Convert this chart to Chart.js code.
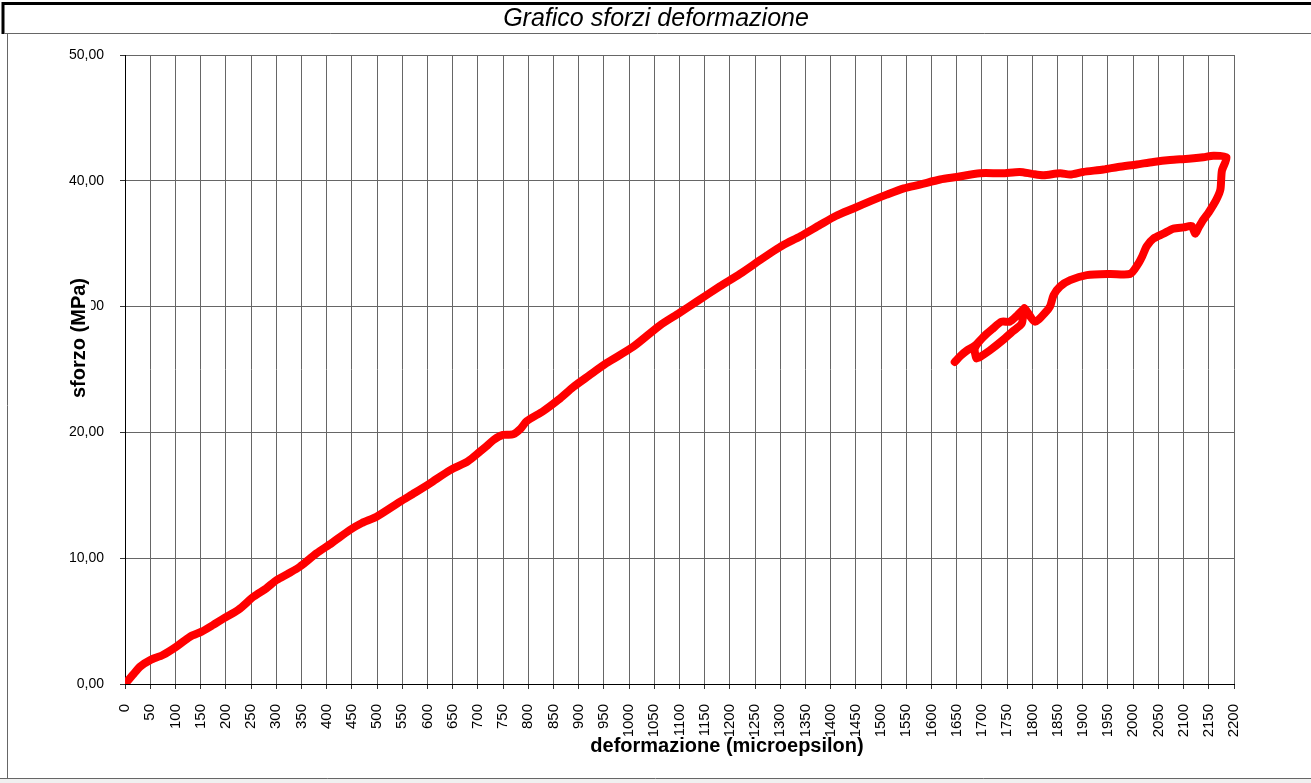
<!DOCTYPE html>
<html>
<head>
<meta charset="utf-8">
<title>Grafico sforzi deformazione</title>
<script src="https://cdn.jsdelivr.net/npm/chart.js@4.4.1/dist/chart.umd.min.js"></script>
<style>
  body { margin: 0; background: #fff; }
  canvas { display: block; }
</style>
</head>
<body>
<canvas id="myChart" width="1311" height="783"></canvas>
<script>
/*** data */
const strain = [
  0, 15, 30, 50, 75, 102, 129, 152, 175, 195, 225, 255, 280, 301, 325, 347, 380, 410, 446, 470,
  499, 546, 575, 605, 645, 680, 704, 717, 731, 750, 770, 785, 797, 830, 860, 889, 920, 955, 1008, 1061,
  1100, 1134, 1180, 1220, 1260, 1286, 1306, 1340, 1379, 1410, 1445, 1480, 1511, 1545, 1577, 1617, 1650, 1696, 1740, 1775,
  1800, 1822, 1855, 1875, 1900, 1941, 1970, 2007, 2040, 2073, 2110, 2139, 2159, 2185,
  2176, 2173, 2165, 2150, 2139, 2130, 2123, 2116, 2100, 2080, 2060, 2040, 2027, 2018, 2010, 1994, 1954, 1908, 1875, 1855,
  1842, 1835, 1825, 1805, 1784, 1779, 1760, 1742, 1715, 1696, 1689, 1686,
  1703, 1720, 1739, 1755, 1770, 1784, 1770, 1755, 1739, 1720, 1703, 1686, 1670, 1658, 1646
];
const stress = [
  0, 0.7, 1.38, 1.9, 2.3, 2.97, 3.76, 4.16, 4.7, 5.2, 5.9, 6.94, 7.6, 8.27, 8.8, 9.33, 10.39, 11.2, 12.24, 12.8,
  13.3, 14.5, 15.2, 15.95, 17.0, 17.7, 18.47, 18.9, 19.4, 19.8, 19.85, 20.3, 20.9, 21.7, 22.6, 23.6, 24.5, 25.5, 26.8, 28.5,
  29.5, 30.4, 31.6, 32.6, 33.7, 34.4, 34.9, 35.6, 36.5, 37.2, 37.8, 38.4, 38.9, 39.4, 39.7, 40.1, 40.3, 40.6, 40.6, 40.7,
  40.55, 40.45, 40.6, 40.5, 40.7, 40.9, 41.1, 41.3, 41.5, 41.65, 41.75, 41.87, 42.0, 41.87,
  40.8, 39.3, 38.5, 37.5, 36.9, 36.3, 35.8, 36.4, 36.3, 36.2, 35.8, 35.4, 34.8, 34.0, 33.4, 32.6, 32.6, 32.5, 32.1, 31.6,
  30.9, 30.0, 29.5, 28.8, 29.86, 28.66, 28.0, 27.35, 26.5, 26.0, 25.9, 26.7,
  27.6, 28.2, 28.8, 28.8, 29.3, 29.86, 29.3, 28.8, 28.8, 28.2, 27.6, 26.9, 26.5, 26.1, 25.6
];

const xTicks = { min: 0, max: 2200, step: 50 };
const yTicks = { min: 0, max: 50, step: 10 };

const points = strain.map((x, i) => ({ x: x, y: stress[i] }));

/*** frame, title and axis titles like the excel sheet */
const excelDecor = {
  id: 'excelDecor',
  beforeDraw(chart) {
    const c = chart.ctx;
    c.save();
    c.fillStyle = '#fff';
    c.fillRect(0, 0, chart.width, chart.height);
    c.fillStyle = '#f0f0f0';
    c.fillRect(0, 779, chart.width, 4);
    c.restore();
  },
  afterDraw(chart) {
    const c = chart.ctx;
    c.save();
    // outer frame
    c.strokeStyle = '#000';
    c.lineWidth = 3;
    c.beginPath();
    c.moveTo(3, 34);
    c.lineTo(3, 3.5);
    c.lineTo(1311, 3.5);
    c.stroke();
    c.strokeStyle = '#666';
    c.lineWidth = 1;
    c.beginPath();
    c.moveTo(4, 33.5); c.lineTo(1311, 33.5);
    c.moveTo(7.5, 33); c.lineTo(7.5, 778);
    c.moveTo(0, 778.5); c.lineTo(1311, 778.5);
    c.stroke();

    // title
    c.fillStyle = '#000';
    c.textAlign = 'center';
    c.textBaseline = 'middle';
    c.font = 'italic 25px "Liberation Sans", Arial, sans-serif';
    c.fillText('Grafico sforzi deformazione', 656, 19);

    // x title
    c.font = 'bold 20px "Liberation Sans", Arial, sans-serif';
    c.fillText('deformazione (microepsilon)', 727, 746);

    // y title, white box over the 30,00 label as in the picture
    c.translate(79, 338);
    c.rotate(-Math.PI / 2);
    const w = c.measureText('sforzo (MPa)').width;
    c.fillStyle = '#fff';
    c.fillRect(-w / 2 - 4, -12, w + 8, 24);
    c.fillStyle = '#000';
    c.fillText('sforzo (MPa)', 0, 0);
    c.restore();
  }
};

const ctx = document.getElementById('myChart').getContext('2d');
const chart = new Chart(ctx, {
  type: 'scatter',
  data: {
    datasets: [{
      label: 'sforzo',
      data: points,
      showLine: true,
      borderColor: '#ff0000',
      backgroundColor: '#ff0000',
      borderWidth: 8,
      borderJoinStyle: 'round',
      borderCapStyle: 'round',
      pointRadius: 0,
      tension: 0.25
    }]
  },
  options: {
    responsive: false,
    animation: false,
    layout: { padding: { top: 55, right: 77, left: 0, bottom: 0 } },
    plugins: {
      legend: { display: false },
      tooltip: { enabled: false }
    },
    scales: {
      x: {
        type: 'linear',
        min: xTicks.min,
        max: xTicks.max,
        afterFit(scale) { scale.height = 99; },
        border: { color: '#000', width: 1 },
        grid: { color: '#666', lineWidth: 1, tickLength: 5, tickColor: '#333' },
        ticks: {
          stepSize: xTicks.step,
          minRotation: 90,
          maxRotation: 90,
          padding: 15,
          color: '#000',
          font: { family: '"Liberation Sans", Arial, sans-serif', size: 15 },
          callback: v => String(v)
        }
      },
      y: {
        min: yTicks.min,
        max: yTicks.max,
        afterFit(scale) { scale.width = 125; },
        border: { color: '#000', width: 1 },
        grid: { color: '#666', lineWidth: 1, tickLength: 5, tickColor: '#333' },
        ticks: {
          stepSize: yTicks.step,
          padding: 16,
          color: '#000',
          font: { family: '"Liberation Sans", Arial, sans-serif', size: 14 },
          callback: v => v.toFixed(2).replace('.', ',')
        }
      }
    }
  },
  plugins: [excelDecor]
});
</script>
</body>
</html>
